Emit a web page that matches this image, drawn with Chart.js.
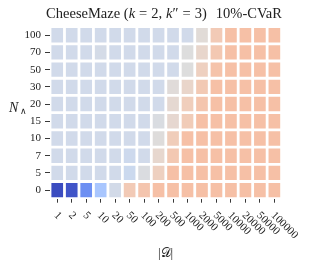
<!DOCTYPE html>
<html>
<head>
<meta charset="utf-8">
<script src="https://cdn.jsdelivr.net/npm/chart.js@4"></script>
<style>
  html, body { margin: 0; padding: 0; background: #fff; }
  #wrap { width: 310px; height: 269px; }
</style>
</head>
<body>
<div id="wrap"><canvas id="heat"></canvas></div>
<script>
// |D| on x, N_wedge on y
var datasetSizes = ['1', '2', '5', '10', '20', '50', '100', '200', '500', '1000', '2000', '5000', '10000', '20000', '50000', '100000'];
var nLevels = ['0', '5', '7', '10', '15', '20', '30', '50', '70', '100'];

// colour value of each cell, -1 .. 1 (one array per N row, columns follow datasetSizes)
var row0   = [-1.00, -0.96, -0.68, -0.34, -0.08, 0.20, 0.24, 0.28, 0.28, 0.28, 0.28, 0.28, 0.28, 0.28, 0.28, 0.28];
var row5   = [-0.09, -0.09, -0.09, -0.09, -0.09, -0.13, -0.02, 0.15, 0.28, 0.28, 0.28, 0.28, 0.28, 0.28, 0.28, 0.28];
var row7   = [-0.09, -0.09, -0.09, -0.09, -0.09, -0.12, -0.09, 0.08, 0.22, 0.28, 0.28, 0.28, 0.28, 0.28, 0.28, 0.28];
var row10  = [-0.09, -0.09, -0.09, -0.09, -0.09, -0.09, -0.09, 0.01, 0.18, 0.28, 0.28, 0.28, 0.28, 0.28, 0.28, 0.28];
var row15  = [-0.09, -0.09, -0.09, -0.09, -0.09, -0.09, -0.09, -0.03, 0.07, 0.19, 0.28, 0.28, 0.28, 0.28, 0.28, 0.28];
var row20  = [-0.09, -0.09, -0.09, -0.09, -0.09, -0.09, -0.09, -0.09, 0.06, 0.17, 0.24, 0.28, 0.28, 0.28, 0.28, 0.28];
var row30  = [-0.09, -0.09, -0.09, -0.09, -0.09, -0.09, -0.09, -0.09, 0.02, 0.10, 0.21, 0.28, 0.28, 0.28, 0.28, 0.28];
var row50  = [-0.09, -0.09, -0.09, -0.09, -0.09, -0.09, -0.09, -0.09, -0.09, 0.00, 0.15, 0.26, 0.28, 0.28, 0.28, 0.28];
var row70  = [-0.09, -0.09, -0.09, -0.07, -0.09, -0.09, -0.09, -0.09, -0.09, 0.00, 0.09, 0.22, 0.28, 0.28, 0.28, 0.28];
var row100 = [-0.09, -0.09, -0.09, -0.09, -0.09, -0.09, -0.09, -0.09, -0.09, -0.09, 0.03, 0.20, 0.28, 0.28, 0.28, 0.28];
var rows = [row0, row5, row7, row10, row15, row20, row30, row50, row70, row100];

// matplotlib coolwarm, 33 stops
var coolwarm = [
	[59,76,192],[68,90,204],[77,104,215],[87,117,225],[98,130,234],[108,142,241],[119,154,247],[130,165,251],
	[141,176,254],[152,185,255],[163,194,255],[174,201,253],[184,208,249],[194,213,244],[204,217,238],[213,219,230],
	[221,221,221],[229,216,209],[236,211,197],[241,204,184],[245,196,172],[247,187,160],[247,177,148],[247,166,135],
	[244,154,123],[241,141,111],[236,127,99],[229,112,88],[222,96,77],[213,80,66],[203,62,56],[192,40,47],[180,4,38]
];
function colorFor(v) {
	var t = Math.min(1, Math.max(0, (v + 1) / 2)) * (coolwarm.length - 1);
	var i = Math.min(coolwarm.length - 2, Math.floor(t));
	var f = t - i;
	var a = coolwarm[i], b = coolwarm[i + 1];
	return 'rgb(' + [0, 1, 2].map(function(k) { return Math.round(a[k] + (b[k] - a[k]) * f); }).join(',') + ')';
}

var serif = '"Liberation Serif", "DejaVu Serif", serif';
var ink = '#222';

var textPlugin = {
	id: 'texts',
	afterDraw: function(chart) {
		var ctx = chart.ctx;
		var area = chart.chartArea;
		var xs = chart.scales.x;
		ctx.save();
		ctx.fillStyle = ink;

		// title, mixed roman / italic; numbers are extra math spacing in px
		var parts = [
			['CheeseMaze (', ''], ['k', 'italic '], 4, ['=', ''], 4, ['2,', ''], 4,
			['k', 'italic '], ['\u2033', ''], 4, ['=', ''], 4, ['3)', ''], 9, ['10%-CVaR', '']
		];
		var size = '14.5px ';
		var total = 0;
		parts.forEach(function(p) {
			if (typeof p === 'number') { total += p; return; }
			ctx.font = p[1] + size + serif;
			p.push(ctx.measureText(p[0]).width);
			total += p[2];
		});
		var x = 164 - total / 2;
		ctx.textBaseline = 'alphabetic';
		ctx.textAlign = 'left';
		parts.forEach(function(p) {
			if (typeof p === 'number') { x += p; return; }
			ctx.font = p[1] + size + serif;
			ctx.fillText(p[0], x, 17.5);
			x += p[2];
		});

		// y label N_wedge
		ctx.font = 'italic 14px ' + serif;
		ctx.fillText('N', 9, 111.5);
		ctx.font = '9px ' + serif;
		ctx.fillText('\u2227', 20, 114);

		// x tick labels, rotated down-right
		ctx.font = '11px ' + serif;
		ctx.textBaseline = 'middle';
		datasetSizes.forEach(function(lab, i) {
			var px = xs.getPixelForValue(i);
			ctx.save();
			ctx.translate(px - 1.5, area.bottom + 15);
			ctx.rotate(Math.PI / 4);
			ctx.fillText(lab, 0, 0);
			ctx.restore();
		});

		// x label |D|
		ctx.font = '13px ' + serif;
		ctx.textAlign = 'center';
		ctx.textBaseline = 'middle';
		ctx.fillText('|\uD835\uDC9F|', 165.5, 254);
		ctx.restore();
	}
};

var ctx = document.getElementById('heat').getContext('2d');
var heatChart = new Chart(ctx, {
	type: 'bar',
	data: {
		labels: datasetSizes,
		datasets: rows.map(function(r, i) {
			return {
				label: nLevels[i],
				data: r.map(function() { return 1; }),
				backgroundColor: r.map(colorFor),
				borderColor: '#ffffff',
				borderWidth: 1.4,
				borderSkipped: false,
				inflateAmount: 0,
				barPercentage: 1,
				categoryPercentage: 1,
				stack: 'cells'
			};
		})
	},
	options: {
		responsive: true,
		maintainAspectRatio: false,
		animation: false,
		events: [],
		layout: { padding: { top: 26.6, right: 28.4, bottom: 60.3, left: 0 } },
		plugins: { legend: { display: false }, tooltip: { enabled: false }, title: { display: false } },
		scales: {
			x: {
				type: 'category',
				stacked: true,
				offset: true,
				border: { display: false },
				grid: { offset: false, drawOnChartArea: false, drawTicks: true, tickLength: 4, color: ink, lineWidth: 0.9 },
				ticks: { display: false },
				afterFit: function(scale) { scale.height = 10; }
			},
			y: {
				type: 'linear',
				stacked: true,
				min: 0,
				max: nLevels.length,
				border: { display: false },
				grid: { drawOnChartArea: false, drawTicks: true, tickLength: 5, color: ink, lineWidth: 0.9 },
				ticks: {
					padding: 4,
					color: ink,
					font: { family: serif, size: 11 },
					callback: function(value, index) { return nLevels[index]; }
				},
				afterBuildTicks: function(scale) {
					scale.ticks = nLevels.map(function(l, i) { return { value: i + 0.5 }; });
				},
				afterFit: function(scale) { scale.width = 50; }
			}
		}
	},
	plugins: [textPlugin]
});
</script>
</body>
</html>
